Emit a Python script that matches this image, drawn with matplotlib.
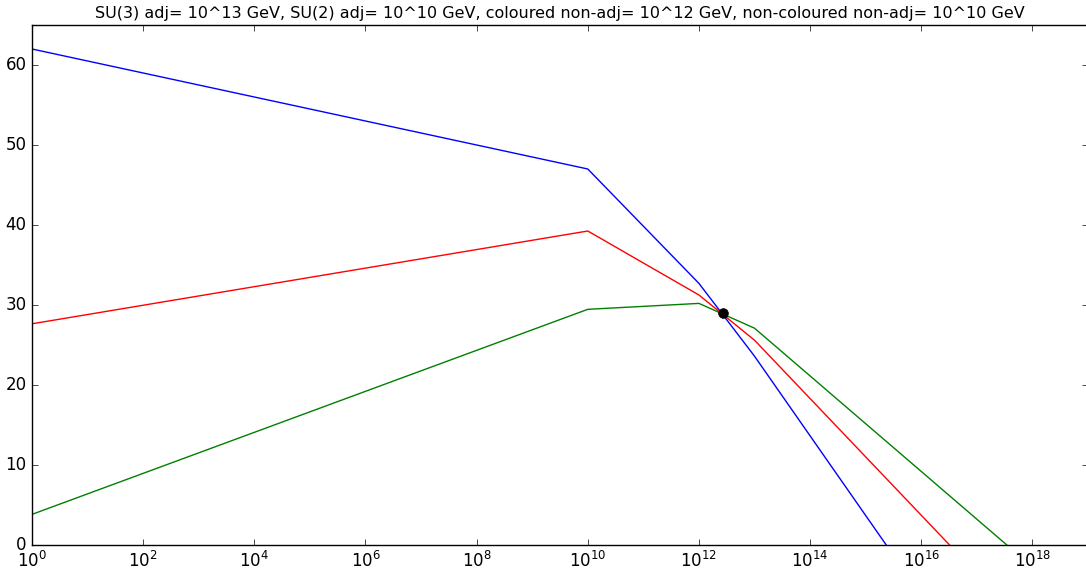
import matplotlib
matplotlib.use("Agg")
import matplotlib.pyplot as plt
import numpy as np

plt.style.use("classic")
plt.rcParams["mathtext.fontset"] = "dejavusans"
plt.rcParams["font.family"] = ["DejaVu Sans"]

# ------------------------------
# Data
# ------------------------------
log_mu = [0, 10, 12, 13]          # threshold scales (log10 GeV)
blue_vals = [62.0, 47.0, 32.7, 23.6]
red_vals = [27.65, 39.25, 31.25, 25.6]
green_vals = [3.83, 29.46, 30.2, 27.1]

# where each curve reaches zero (log10 GeV)
blue_zero = 15.37
red_zero = 16.51
green_zero = 17.54

unif_log_mu = 12.43
unif_val = 28.95

title = ("SU(3) adj= 10^13 GeV, SU(2) adj= 10^10 GeV, "
         "coloured non-adj= 10^12 GeV, non-coloured non-adj= 10^10 GeV")

# ------------------------------
# Plot
# ------------------------------
fig = plt.figure(figsize=(10.86, 5.77), dpi=100, facecolor="white")
ax = fig.add_axes([32 / 1086, 1 - 545 / 577, 1056 / 1086, 520 / 577])

for vals, z, c in [(blue_vals, blue_zero, "b"),
                   (red_vals, red_zero, "r"),
                   (green_vals, green_zero, "g")]:
    xs = 10.0 ** np.array(log_mu + [z])
    ys = vals + [0.0]
    ax.plot(xs, ys, color=c, linewidth=1.0)

ax.plot([10 ** unif_log_mu], [unif_val], "o", color="black",
        markersize=7, markeredgecolor="black")

ax.set_xscale("log")
ax.set_xlim(1, 1e19)
ax.set_ylim(0, 65)
ax.set_xticks([10.0 ** k for k in range(0, 19, 2)])
ax.set_xticklabels([r"$10^{%d}$" % k for k in range(0, 19, 2)])
ax.xaxis.set_minor_locator(matplotlib.ticker.NullLocator())
ax.set_yticks(range(0, 61, 10))
ax.tick_params(labelsize=12)
ax.set_title(title, fontsize=11.5)

fig.savefig("out.png", dpi=100, facecolor="white")
